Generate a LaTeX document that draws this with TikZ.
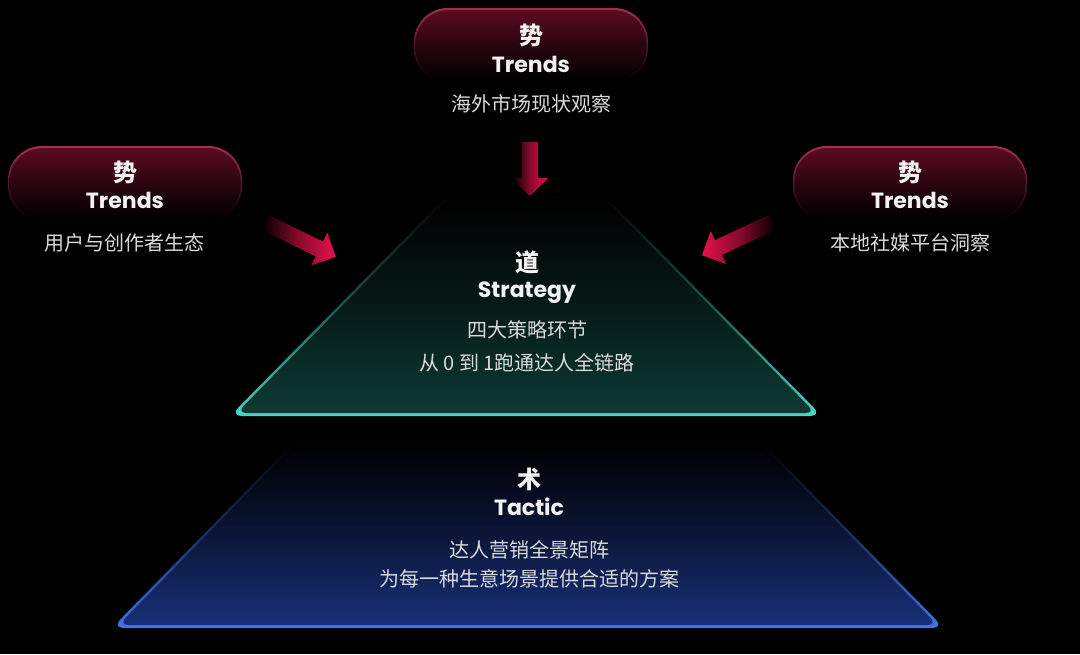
\documentclass[tikz,border=0pt]{standalone}
\usepackage{fontspec}
\setmainfont{Poppins}
\newfontfamily\cjk{Noto Sans CJK SC}
\usetikzlibrary{shapes.arrows}

\definecolor{pilltop}{HTML}{5C0B23}
\definecolor{pillrim}{HTML}{A3304F}
\definecolor{arrowred}{HTML}{E5114A}
\definecolor{stratline}{HTML}{48D8C4}
\definecolor{stratfill}{HTML}{0D3A33}
\definecolor{tactline}{HTML}{4474EA}
\definecolor{tactfill}{HTML}{17307A}
\definecolor{txt}{HTML}{F2F2F2}

\begin{document}
\begin{tikzpicture}[x = 1pt, y = -1pt,
  rim/.style = {rounded corners = 34pt, minimum width = 234pt, minimum height = 74pt, inner sep = 0pt, top color = pillrim, bottom color = black},
  pill/.style = {rounded corners = 33pt, minimum width = 231pt, minimum height = 71pt, inner sep = 0pt, top color = pilltop, bottom color = black, middle color = pilltop!45!black},
  head/.style = {text = txt, inner sep = 0pt, font = \fontsize{24}{24}\selectfont\cjk\bfseries},
  title/.style = {text = txt, inner sep = 0pt, font = \fontsize{22}{22}\selectfont\bfseries},
  sub/.style = {text = txt!90!black, inner sep = 0pt, font = \fontsize{20}{20}\selectfont\cjk},
  push/.style = {single arrow, inner xsep = 0pt, inner ysep = 8pt, minimum width = 36pt, minimum height = #1, single arrow head extend = 10pt, single arrow head indent = 0pt, left color = black, right color = arrowred, middle color = arrowred!60!black},
  pushback/.style = {push = #1, left color = arrowred, right color = black, middle color = arrowred!60!black}
]
\fill[black] (0,0) rectangle (1080,654);

\node[rim] (r1) at (531,45) {};
\node[pill] (p1) at (531,45.5) {};
\node[rim] (r2) at (125,183) {};
\node[pill] (p2) at (125,183.5) {};
\node[rim] (r3) at (910,183) {};
\node[pill] (p3) at (910,183.5) {};

\node[head] (h1) at (531,35) {势};
\node[title] (t1) at (531,64) {Trends};
\node[sub] (n1) at (531,104) {海外市场现状观察};
\node[head] (h2) at (125,172) {势};
\node[title] (t2) at (125,200) {Trends};
\node[sub] (n2) at (125,243) {用户与创作者生态};
\node[head] (h3) at (910,172) {势};
\node[title] (t3) at (910,200) {Trends};
\node[sub] (n3) at (910,243) {本地社媒平台洞察};

\node[push = 54pt, rotate = -90] (a1) at (530,165) {};
\node[push = 78pt, rotate = -26] (a2) at (297,238) {};
\node[pushback = 78pt, xscale = -1, rotate = -25] (a3) at (741,237) {};

\shade[rounded corners = 12pt, top color = black, bottom color = stratline, middle color = stratline!40!black] (448,195) -- (604,195) -- (822,416) -- (230,416) -- cycle;
\shade[rounded corners = 10pt, top color = black, bottom color = stratfill, middle color = stratfill!45!black] (448.5,198) -- (603.5,198) -- (815.5,413) -- (236.5,413) -- cycle;
\shade[rounded corners = 12pt, top color = black, bottom color = tactline, middle color = tactline!40!black] (296,440) -- (760,440) -- (944,628) -- (112,628) -- cycle;
\shade[rounded corners = 10pt, top color = black, bottom color = tactfill, middle color = tactfill!45!black] (296.5,443) -- (759.5,443) -- (937.5,625) -- (118.5,625) -- cycle;

\node[head] (d1) at (527,262) {道};
\node[title] (d2) at (527,293) {Strategy};
\node[sub] (d3) at (527,330) {四大策略环节};
\node[sub] (d4) at (527,363) {从 0 到 1跑通达人全链路};
\node[head] (s1) at (529,479) {术};
\node[title] (s2) at (529,507) {Tactic};
\node[sub] (s3) at (529,550) {达人营销全景矩阵};
\node[sub] (s4) at (529,579) {为每一种生意场景提供合适的方案};
\end{tikzpicture}
\end{document}
